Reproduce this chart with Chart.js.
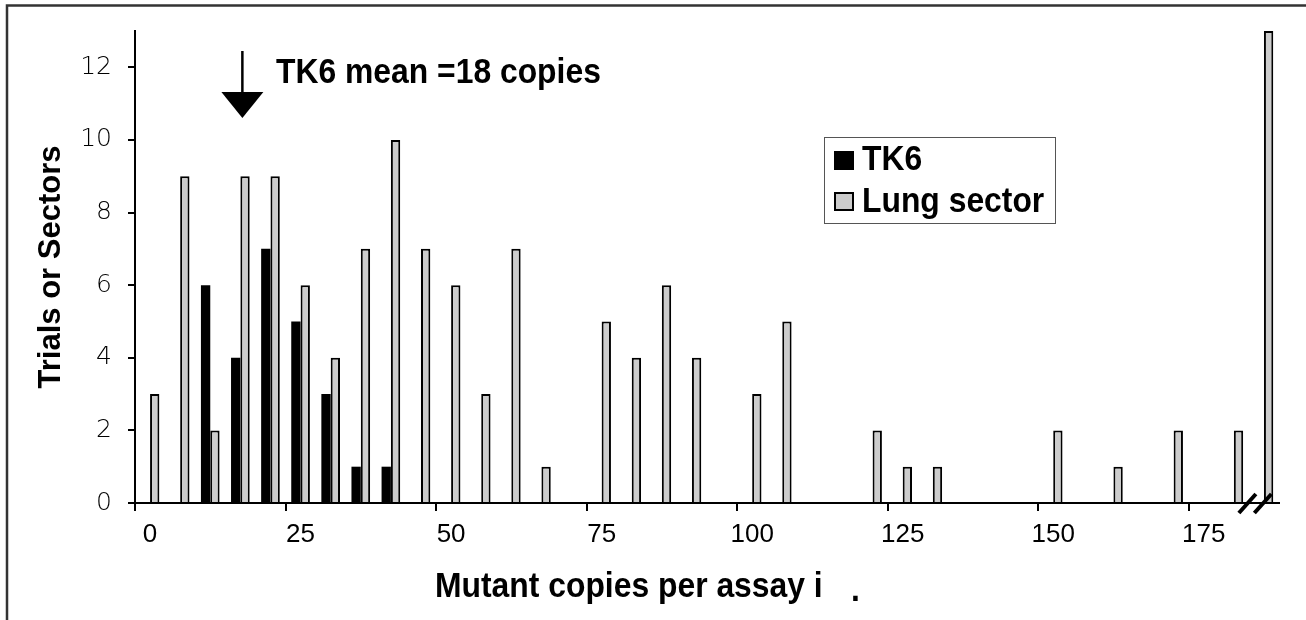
<!DOCTYPE html>
<html><head><meta charset="utf-8">
<script src="https://cdn.jsdelivr.net/npm/chart.js@4.4.1/dist/chart.umd.min.js"></script>
<style>html,body{margin:0;padding:0;background:#fff}#wrap{width:1306px;height:620px;position:relative}</style>
</head><body><div id="wrap"><canvas id="c" width="1306" height="620"></canvas></div>
<script>
// Categories: mutant copies per assay (bins of 5)
const categories = ['0','5','10','15','20','25','30','35','40','45','50','55','60','65','70','75','80','85','90','95','100','105','110','115','120','125','130','135','140','145','150','155','160','165','170','175','180','185'];
// TK6 trials per bin
const tk6Counts = [0,0,6,4,7,5,3,1,1,0,0,0,0,0,0,0,0,0,0,0,0,0,0,0,0,0,0,0,0,0,0,0,0,0,0,0,0,0];
// Lung sectors per bin
const lungCounts = [3,9,2,9,9,6,4,7,10,7,6,3,7,1,0,5,4,6,4,0,3,5,0,0,2,1,1,0,0,0,2,0,1,0,2,0,2,13];
const yTickValues = [0,2,4,6,8,10,12];
const xLabelEvery = 25;
const seriesNames = ['TK6','Lung sector'];
const annotationText = 'TK6 mean =18 copies';
const xTitle = 'Mutant copies per assay i';
const yTitle = 'Trials or Sectors';

const BOLD = '"Liberation Sans", Arial, sans-serif';

function condensedText(ctx, txt, x, y, size, sx) {
  ctx.save();
  ctx.translate(x, y);
  ctx.scale(sx, 1);
  ctx.font = 'bold ' + size + 'px ' + BOLD;
  ctx.fillStyle = '#000';
  ctx.textAlign = 'left';
  ctx.textBaseline = 'alphabetic';
  ctx.fillText(txt, 0, 0);
  ctx.restore();
}

const decor = {
  id: 'decor',
  afterDraw(chart) {
    const ctx = chart.ctx;
    const xs = chart.scales.x, ys = chart.scales.y;
    ctx.save();
    // outer frame (top and left edges visible)
    ctx.strokeStyle = '#333';
    ctx.lineWidth = 2.5;
    ctx.beginPath();
    ctx.moveTo(7, 620); ctx.lineTo(7, 5.5); ctx.lineTo(1306, 5.5);
    ctx.stroke();

    // arrow pointing at the TK6 mean
    const ax = xs.getPixelForValue(3) + 2;
    ctx.strokeStyle = '#000';
    ctx.lineWidth = 2.5;
    ctx.beginPath(); ctx.moveTo(ax, 51); ctx.lineTo(ax, 93); ctx.stroke();
    ctx.fillStyle = '#000';
    ctx.beginPath(); ctx.moveTo(ax - 21, 92); ctx.lineTo(ax + 21, 92); ctx.lineTo(ax, 118); ctx.closePath(); ctx.fill();
    condensedText(ctx, annotationText, 276, 83, 35, 0.91);

    // legend
    const ds = chart.data.datasets;
    ctx.fillStyle = '#fff';
    ctx.fillRect(824, 137, 231, 86);
    ctx.strokeStyle = '#555';
    ctx.lineWidth = 1;
    ctx.strokeRect(824.5, 137.5, 231, 86);
    const rows = [{y: 151, base: 170}, {y: 192, base: 212}];
    ds.forEach((d, i) => {
      const r = rows[i];
      ctx.fillStyle = d.backgroundColor;
      ctx.fillRect(834, r.y, 20, 19);
      if (d.borderWidth) {
        ctx.strokeStyle = '#000'; ctx.lineWidth = 2;
        ctx.strokeRect(835, r.y + 1, 18, 17);
      }
      condensedText(ctx, d.label, 862, r.base, 35, 0.91);
    });

    // x-axis title and stray period
    condensedText(ctx, xTitle, 435, 597, 35, 0.91);
    condensedText(ctx, '.', 851, 601, 35, 0.91);

    // axis break marks between the last two bins
    const bx = (xs.getPixelForValue(36) + xs.getPixelForValue(37)) / 2;
    const by = ys.getPixelForValue(0);
    ctx.strokeStyle = '#000';
    ctx.lineWidth = 4;
    [bx - 1.5, bx + 14].forEach(cx => {
      ctx.beginPath(); ctx.moveTo(cx - 8.5, by + 10); ctx.lineTo(cx + 8.5, by - 9); ctx.stroke();
    });
    ctx.restore();
  }
};

new Chart(document.getElementById('c'), {
  type: 'bar',
  data: {
    labels: categories,
    datasets: [
      { label: seriesNames[0], data: tk6Counts, backgroundColor: '#000000', borderWidth: 0, categoryPercentage: 0.62, barPercentage: 1.0 },
      { label: seriesNames[1], data: lungCounts, backgroundColor: '#cccccc', borderColor: '#000000', borderWidth: 2, categoryPercentage: 0.62, barPercentage: 1.0 }
    ]
  },
  options: {
    responsive: false,
    animation: false,
    devicePixelRatio: 1,
    layout: { padding: { top: 27, right: 27, left: 0, bottom: 0 } },
    plugins: { legend: { display: false }, tooltip: { enabled: false } },
    scales: {
      x: {
        offset: true,
        afterFit(s) { s.height = 117; },
        grid: {
          offset: true, drawOnChartArea: false, drawTicks: true, tickLength: 8, lineWidth: 2,
          color: c => (typeof c.index === 'number' && c.index % 5 === 0) ? '#000' : 'rgba(0,0,0,0)'
        },
        border: { display: true, color: '#000', width: 2 },
        ticks: {
          autoSkip: false, maxRotation: 0, minRotation: 0, padding: 8, color: '#000',
          font: { family: '"Liberation Sans", Arial, sans-serif', size: 26 },
          callback: (v, i) => (Number(categories[i]) % xLabelEvery === 0 ? categories[i] : '')
        }
      },
      y: {
        min: 0, max: 13,
        afterFit(s) { s.width = 135; },
        ticks: {
          stepSize: 2, padding: 16, color: '#000',
          font: { family: '"DejaVu Sans", sans-serif', size: 25, weight: '200' },
          callback: v => (yTickValues.includes(v) ? String(v) : '')
        },
        grid: {
          drawOnChartArea: false, drawTicks: true, tickLength: 7, lineWidth: 2,
          color: c => (c.tick && yTickValues.includes(c.tick.value)) ? '#000' : 'rgba(0,0,0,0)'
        },
        border: { display: true, color: '#000', width: 2 },
        title: {
          display: true, text: yTitle, color: '#000',
          font: { family: BOLD, size: 31, weight: 'bold' },
          padding: { top: 33, bottom: 0 }
        }
      }
    }
  },
  plugins: [decor]
});
</script>
</body></html>
